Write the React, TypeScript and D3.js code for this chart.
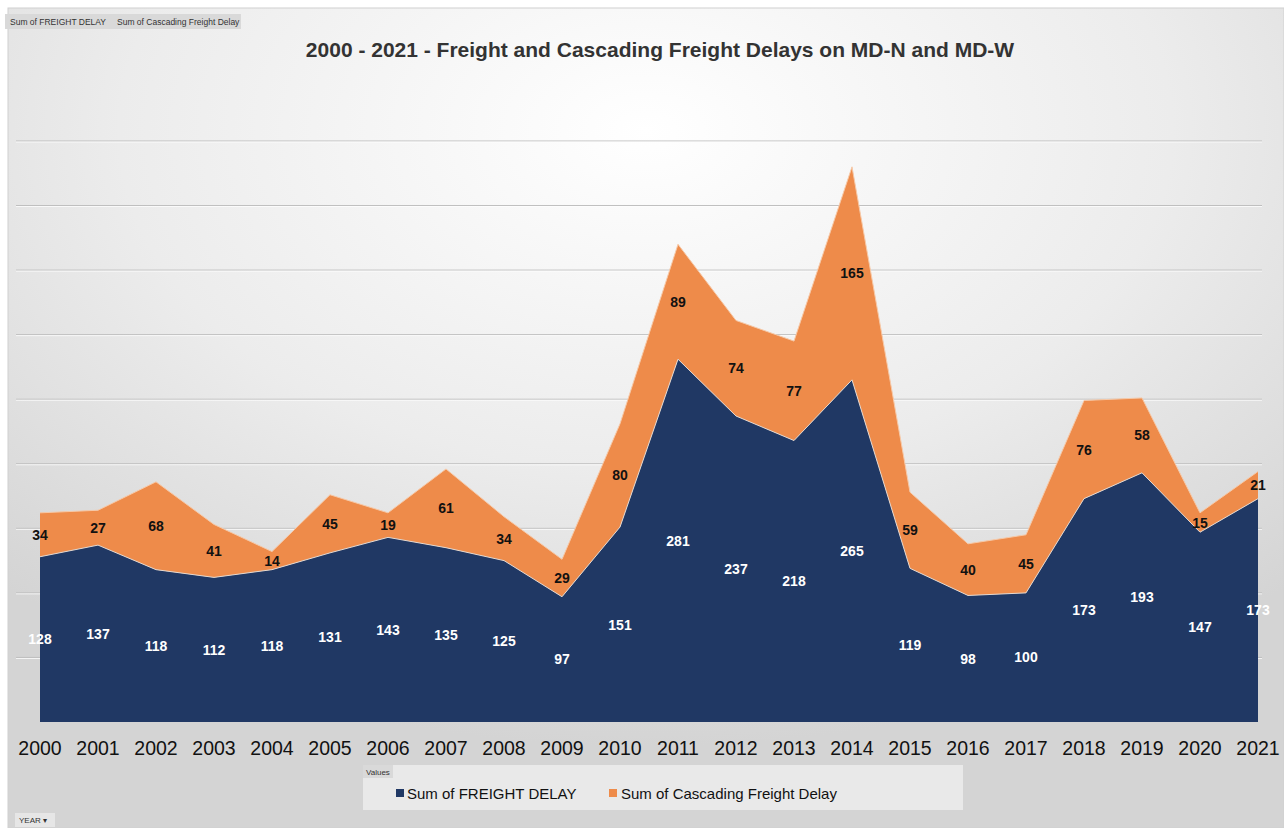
import React from "react";
import * as d3 from "d3";

const years = ["2000","2001","2002","2003","2004","2005","2006","2007","2008","2009","2010","2011","2012","2013","2014","2015","2016","2017","2018","2019","2020","2021"];
const freightDelay = [128,137,118,112,118,131,143,135,125,97,151,281,237,218,265,119,98,100,173,193,147,173];
const cascadingDelay = [34,27,68,41,14,45,19,61,34,29,80,89,74,77,165,59,40,45,76,58,15,21];
const gridTicks = [50,100,150,200,250,300,350,400,450];

const W = 1284;
const H = 828;
const font = "'Liberation Sans', Arial, sans-serif";
const NAVY = "#203864";
const ORANGE = "#ee8b4a";

export default function App() {
  const x = d3.scalePoint().domain(years).range([40, 1258]);
  const y = d3.scaleLinear().domain([0, 450]).range([722, 141]);

  const rows = years.map((yr, i) => ({ yr, f: freightDelay[i], c: cascadingDelay[i] }));

  const freightArea = d3.area<any>()
    .x(d => x(d.yr)!)
    .y0(y(0))
    .y1(d => y(d.f));
  const cascArea = d3.area<any>()
    .x(d => x(d.yr)!)
    .y0(d => y(d.f))
    .y1(d => y(d.f + d.c));
  const topLine = d3.line<any>().x(d => x(d.yr)!).y(d => y(d.f + d.c));
  const midLine = d3.line<any>().x(d => x(d.yr)!).y(d => y(d.f));

  return (
    <svg width={W} height={H} style={{ position: "absolute", left: 0, top: 0 }}>
      <defs>
        <radialGradient id="bg" cx="50%" cy="15%" r="75%">
          <stop offset="0%" stopColor="#ffffff" />
          <stop offset="55%" stopColor="#ececec" />
          <stop offset="100%" stopColor="#d4d4d4" />
        </radialGradient>
      </defs>
      <rect x={0} y={0} width={W} height={H} fill="#ffffff" />
      <rect x={8} y={8} width={W - 8} height={H - 8} fill="url(#bg)" stroke="#d0d0d0" />

      {/* field buttons */}
      <rect x={5} y={14} width={236} height={15} fill="#d9d9d9" />
      <text x={10} y={25} fontFamily={font} fontSize={8.5} fill="#333">Sum of FREIGHT DELAY</text>
      <text x={117} y={25} fontFamily={font} fontSize={8.5} fill="#333">Sum of Cascading Freight Delay</text>

      <text x={660} y={57} textAnchor="middle" fontFamily={font} fontSize={21} fontWeight="bold" fill="#333">
        2000 - 2021 - Freight and Cascading Freight Delays on MD-N and MD-W
      </text>

      {/* gridlines */}
      {gridTicks.map(t => (
        <g key={t}>
          <line x1={16} x2={1262} y1={y(t)} y2={y(t)} stroke="#bdbdbd" strokeWidth={1} />
          <line x1={16} x2={1262} y1={y(t) + 1} y2={y(t) + 1} stroke="#ffffff" strokeWidth={1} opacity={0.8} />
        </g>
      ))}

      <path d={cascArea(rows)!} fill={ORANGE} />
      <path d={freightArea(rows)!} fill={NAVY} />
      <path d={topLine(rows)!} fill="none" stroke="#f6c9a8" strokeWidth={1} />
      <path d={midLine(rows)!} fill="none" stroke="#e8d8cc" strokeWidth={1} />

      {/* data labels */}
      {rows.map(d => (
        <text key={"f" + d.yr} x={x(d.yr)} y={y(d.f / 2) + 5} textAnchor="middle"
          fontFamily={font} fontSize={14} fontWeight="bold" fill="#ffffff">{d.f}</text>
      ))}
      {rows.map(d => (
        <text key={"c" + d.yr} x={x(d.yr)} y={y(d.f + d.c / 2) + 5} textAnchor="middle"
          fontFamily={font} fontSize={14} fontWeight="bold" fill="#111">{d.c}</text>
      ))}

      {/* x axis labels */}
      {years.map(yr => (
        <text key={yr} x={x(yr)} y={755} textAnchor="middle" fontFamily={font} fontSize={19.5} fill="#111">{yr}</text>
      ))}

      {/* legend */}
      <rect x={363} y={765} width={600} height={45} fill="#eeeeee" opacity={0.8} />
      <rect x={363} y={765} width={30} height={13} fill="#d9d9d9" />
      <text x={366} y={775} fontFamily={font} fontSize={8} fill="#333">Values</text>
      <rect x={396} y={789} width={8} height={8} fill={NAVY} />
      <text x={407} y={799} fontFamily={font} fontSize={15} fill="#111">Sum of FREIGHT DELAY</text>
      <rect x={609} y={789} width={8} height={8} fill={ORANGE} />
      <text x={621} y={799} fontFamily={font} fontSize={15} fill="#111">Sum of Cascading Freight Delay</text>

      <rect x={15} y={813} width={40} height={14} fill="#e6e6e6" />
      <text x={19} y={823} fontFamily={font} fontSize={8} fill="#333">YEAR ▾</text>
    </svg>
  );
}
